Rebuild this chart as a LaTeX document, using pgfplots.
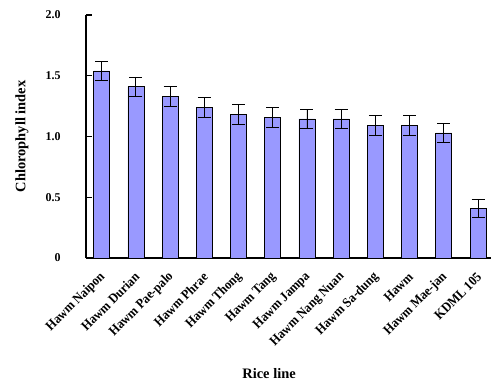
\documentclass[border=0pt]{standalone}
\usepackage{fontspec}
\setmainfont{Liberation Serif}
\newfontfamily\labfont[FakeStretch=0.92]{Liberation Serif}
\usepackage{pgfplots}
\pgfplotsset{compat=1.18}
\definecolor{barblue}{RGB}{153,153,255}
\begin{document}
\begin{tikzpicture}
\useasboundingbox (0,0) rectangle (492bp,383bp);
\begin{axis}[
  at={(86bp,125bp)}, anchor=south west,
  scale only axis, width=405bp, height=243bp,
  xmin=-0.46, xmax=11.38, ymin=0, ymax=2,
  axis x line*=bottom, axis y line*=left,
  axis line style={line width=1.8bp},
  ytick={0,0.5,1,1.5,2}, yticklabels={0,0.5,1.0,1.5,2.0},
  xtick={0,...,11},
  xticklabels={Hawm Naipon,Hawm Durian,Hawm Pae-palo,Hawm Phrae,Hawm Thong,Hawm Tang,Hawm Jampa,Hawm Nang Nuan,Hawm Sa-dung,Hawm,Hawm Mae-jan,KDML 105},
  tick align=inside, major tick length=6bp,
  ytick style={line width=1.3bp, black},
  xtick style={draw=none},
  yticklabel style={font=\fontsize{12}{14}\selectfont\bfseries, anchor=east, xshift=-22bp},
  xticklabel style={font=\labfont\fontsize{13.5}{15}\selectfont\bfseries, xshift=2bp, yshift=-10bp, rotate=45, anchor=east, inner sep=1bp},
  ylabel={Chlorophyll index},
  xlabel={Rice line},
  label style={font=\fontsize{14.5}{16}\selectfont\bfseries},
  ylabel style={at={(axis description cs:-0.158,0.5)}, anchor=center},
  xlabel style={at={(axis description cs:0.452,-0.477)}, anchor=center},
  ybar, bar width=16bp,
  clip=false,
]
\addplot[ybar, fill=barblue, draw=black, line width=0.7bp,
  error bars/.cd, y dir=both, y explicit,
  error bar style={line width=0.9bp, black},
  error mark options={rotate=90, mark size=6.5bp, line width=0.9bp, black}]
coordinates {
(0,1.54) +- (0,0.08)
(1,1.41) +- (0,0.08)
(2,1.33) +- (0,0.08)
(3,1.24) +- (0,0.08)
(4,1.18) +- (0,0.08)
(5,1.155) +- (0,0.08)
(6,1.145) +- (0,0.08)
(7,1.145) +- (0,0.08)
(8,1.09) +- (0,0.08)
(9,1.09) +- (0,0.08)
(10,1.03) +- (0,0.075)
(11,0.41) +- (0,0.075)
};
\end{axis}
\end{tikzpicture}
\end{document}
